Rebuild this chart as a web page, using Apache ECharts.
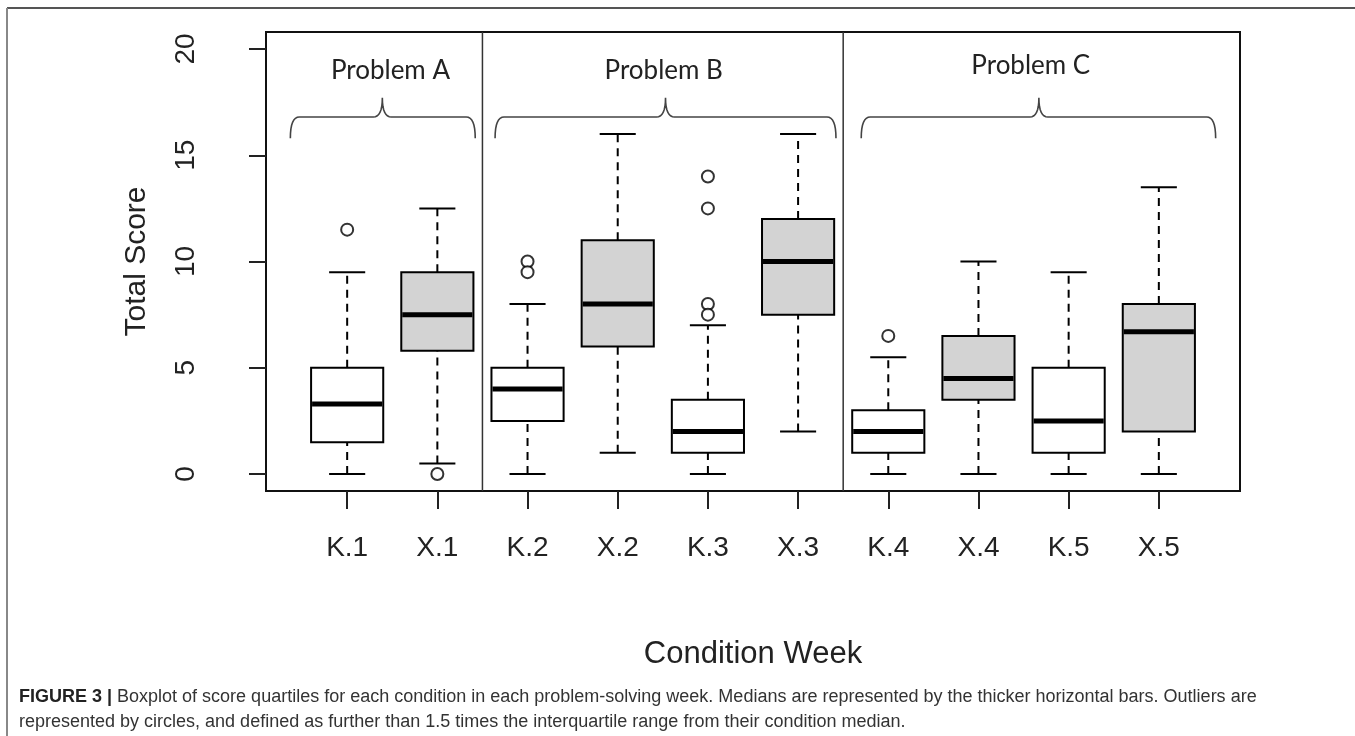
<!DOCTYPE html>
<html><head><meta charset="utf-8">
<script src="https://cdn.jsdelivr.net/npm/echarts@6/dist/echarts.min.js"></script>
<style>html,body{margin:0;padding:0;background:#fff;} #c{width:1355px;height:736px;}</style>
</head><body><div id="c"></div>
<script>
// ---- data ----
const categories = ['K.1','X.1','K.2','X.2','K.3','X.3','K.4','X.4','K.5','X.5'];
const whiskerLow  = [0,   0.5, 0,   1,  0,   2,   0,   0,   0,   0];
const q1          = [1.5, 5.8, 2.5, 6,  1,   7.5, 1,   3.5, 1,   2];
const median      = [3.3, 7.5, 4,   8,  2,   10,  2,   4.5, 2.5, 6.7];
const q3          = [5,   9.5, 5,   11, 3.5, 12,  3,   6.5, 5,   8];
const whiskerHigh = [9.5, 12.5, 8,  16, 7,   16,  5.5, 10,  9.5, 13.5];
const outlierCategory = ['K.1','X.1','K.2','K.2','K.3','K.3','K.3','K.3','K.4'];
const outlierValue    = [11.5, 0,   10,  9.5,  14,   12.5, 8,    7.5,  6.5];
const yTicks = [0, 5, 10, 15, 20];
const problemLabels = ['Problem A', 'Problem B', 'Problem C'];
// bracket spans in category-position units (1 = first box)
const problemFrom = [0.37, 2.64, 6.70];
const problemTo   = [2.42, 6.42, 10.63];
const problemMid  = [1.39, 4.53, 8.67];
const problemTextX = [1.48, 4.51, 8.58];
const dividers = [2.5, 6.5];

const FONT = '"Liberation Sans", Arial, Helvetica, sans-serif';
const boxData = categories.map((c, i) => [i + 1, whiskerLow[i], q1[i], median[i], q3[i], whiskerHigh[i], c.charAt(0) === 'X' ? 1 : 0]);
const outlierData = outlierCategory.map((c, i) => [categories.indexOf(c) + 1, outlierValue[i]]);
const annotationData = problemLabels.map((p, i) => [problemFrom[i], problemTo[i], problemMid[i], problemTextX[i], i]);

const chart = echarts.init(document.getElementById('c'), null, {renderer: 'canvas'});

function renderBox(params, api) {
  const x = api.value(0);
  const lo = api.coord([x, api.value(1)]);
  const b1 = api.coord([x, api.value(2)]);
  const md = api.coord([x, api.value(3)]);
  const b3 = api.coord([x, api.value(4)]);
  const hi = api.coord([x, api.value(5)]);
  const halfBox = api.size([0.8, 0])[0] / 2;
  const halfCap = api.size([0.4, 0])[0] / 2;
  const cx = lo[0];
  const dash = {stroke: '#000', lineWidth: 2, lineDash: [8, 6]};
  const solid = {stroke: '#000', lineWidth: 2};
  return {
    type: 'group',
    children: [
      {type: 'line', shape: {x1: cx, y1: b3[1], x2: cx, y2: hi[1]}, style: dash},
      {type: 'line', shape: {x1: cx, y1: lo[1], x2: cx, y2: b1[1]}, style: dash},
      {type: 'line', shape: {x1: cx - halfCap, y1: hi[1], x2: cx + halfCap, y2: hi[1]}, style: solid},
      {type: 'line', shape: {x1: cx - halfCap, y1: lo[1], x2: cx + halfCap, y2: lo[1]}, style: solid},
      {type: 'rect', shape: {x: cx - halfBox, y: b3[1], width: halfBox * 2, height: b1[1] - b3[1]},
        style: {fill: api.value(6) ? '#d3d3d3' : '#fff', stroke: '#000', lineWidth: 2}},
      {type: 'line', shape: {x1: cx - halfBox + 1, y1: md[1], x2: cx + halfBox - 1, y2: md[1]}, style: {stroke: '#000', lineWidth: 5}}
    ]
  };
}

function quad(p0, c, p1, n) {
  const pts = [];
  for (let k = 0; k <= n; k++) {
    const t = k / n;
    pts.push([(1 - t) * (1 - t) * p0[0] + 2 * (1 - t) * t * c[0] + t * t * p1[0],
              (1 - t) * (1 - t) * p0[1] + 2 * (1 - t) * t * c[1] + t * t * p1[1]]);
  }
  return pts;
}

function renderAnnotation(params, api) {
  const idx = api.value(4);
  const h = api.coord([0, 16.8])[1];
  const e = api.coord([0, 15.8])[1];
  const tip = api.coord([0, 17.7])[1];
  const ty = api.coord([0, idx === 2 ? 19.2 : 19.0])[1];
  const x0 = api.coord([api.value(0), 0])[0];
  const x1 = api.coord([api.value(1), 0])[0];
  const xm = api.coord([api.value(2), 0])[0];
  const xt = api.coord([api.value(3), 0])[0];
  const r = 9;
  let pts = [];
  pts = pts.concat(quad([x0, e], [x0, h], [x0 + r, h], 8));
  pts = pts.concat(quad([xm - r, h], [xm, h], [xm, tip], 8));
  pts = pts.concat(quad([xm, tip], [xm, h], [xm + r, h], 8));
  pts = pts.concat(quad([x1 - r, h], [x1, h], [x1, e], 8));
  const children = [
    {type: 'polyline', shape: {points: pts}, style: {stroke: '#444', lineWidth: 1.6, fill: null}},
    {type: 'text', style: {x: xt, y: ty, text: problemLabels[idx], fill: '#222',
      font: '26px Lato, "Open Sans", sans-serif', textAlign: 'center', textVerticalAlign: 'middle'}}
  ];
  if (idx < dividers.length) {
    const dx = api.coord([dividers[idx], 0])[0];
    children.push({type: 'line', shape: {x1: dx, y1: api.coord([0, 20.8])[1], x2: dx, y2: api.coord([0, -0.8])[1]},
      style: {stroke: '#333', lineWidth: 1.5}});
  }
  return {type: 'group', children};
}

const option = {
  animation: false,
  backgroundColor: '#fff',
  grid: {left: 266, right: 115, top: 32, bottom: 245, show: true, borderColor: '#111', borderWidth: 2, backgroundColor: 'transparent'},
  xAxis: {
    type: 'value', min: 0.1, max: 10.9,
    splitLine: {show: false}, axisLine: {show: false, onZero: false},
    axisTick: {show: true, customValues: categories.map((c, i) => i + 1), length: 18, lineStyle: {color: '#222', width: 2}},
    axisLabel: {customValues: categories.map((c, i) => i + 1), formatter: v => categories[Math.round(v) - 1] || '',
      margin: 43, fontSize: 28, fontFamily: FONT, color: '#222'},
    name: 'Condition Week', nameLocation: 'middle', nameGap: 148,
    nameTextStyle: {fontSize: 31, fontFamily: FONT, color: '#222'}
  },
  yAxis: {
    type: 'value', min: -0.8, max: 20.8,
    splitLine: {show: false}, axisLine: {show: false, onZero: false},
    axisTick: {show: true, customValues: yTicks, length: 17, lineStyle: {color: '#222', width: 2}},
    axisLabel: {customValues: yTicks, rotate: 90, margin: 66, fontSize: 28, fontFamily: FONT, color: '#222'},
    name: 'Total Score', nameLocation: 'middle', nameGap: 114,
    nameTextStyle: {fontSize: 30, fontFamily: FONT, color: '#222'}
  },
  series: [
    {type: 'custom', data: annotationData, renderItem: renderAnnotation, silent: true, clip: false, z: 1},
    {type: 'custom', data: boxData, renderItem: renderBox, encode: {x: 0, y: [1, 2, 3, 4, 5]}, silent: true, z: 2},
    {type: 'scatter', data: outlierData, symbol: 'emptyCircle', symbolSize: 12,
      itemStyle: {color: '#000', borderColor: '#000', borderWidth: 1.5}, silent: true, z: 3}
  ],
  graphic: [
    {type: 'line', shape: {x1: 7, y1: 8, x2: 1355, y2: 8}, style: {stroke: '#555', lineWidth: 2}},
    {type: 'line', shape: {x1: 7, y1: 8, x2: 7, y2: 736}, style: {stroke: '#888', lineWidth: 2}},
    {type: 'text', x: 19, y: 697, style: {
      text: '{b|FIGURE 3 |} Boxplot of score quartiles for each condition in each problem-solving week. Medians are represented by the thicker horizontal bars. Outliers are',
      font: '18px ' + FONT, fill: '#333', textVerticalAlign: 'middle',
      rich: {b: {fontWeight: 'bold', fill: '#222', fontSize: 18, fontFamily: FONT}}}},
    {type: 'text', x: 19, y: 722, style: {
      text: 'represented by circles, and defined as further than 1.5 times the interquartile range from their condition median.',
      font: '18px ' + FONT, fill: '#333', textVerticalAlign: 'middle'}}
  ]
};
chart.setOption(option);
</script>
</body></html>
